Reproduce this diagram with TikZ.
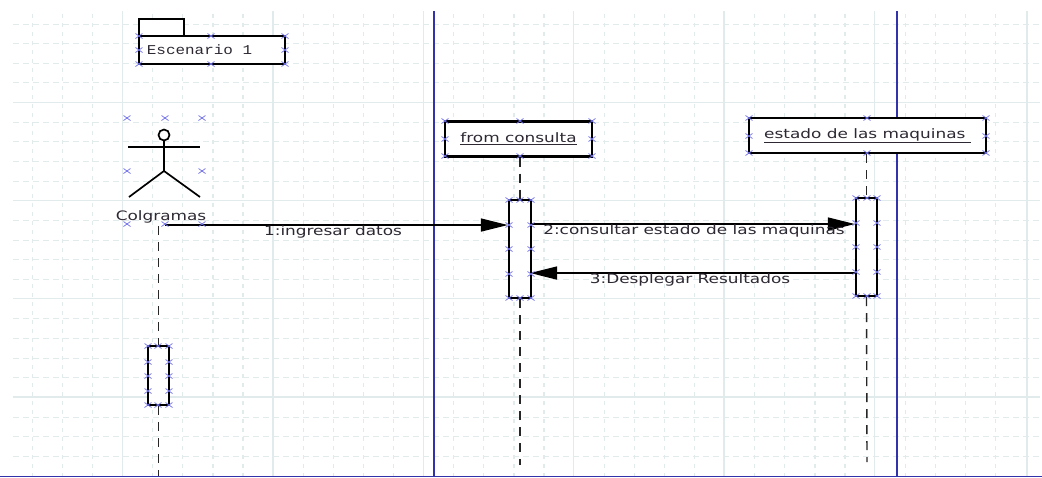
\documentclass[tikz,border=0pt]{standalone}
\usepackage{fontspec}
\setmainfont{DejaVu Sans}
\newfontfamily\widef[FakeStretch=1.3]{DejaVu Sans}
\newfontfamily\monof[FakeStretch=1.18]{Liberation Mono}
\usetikzlibrary{arrows.meta}
\definecolor{gridc}{RGB}{226,235,235}
\definecolor{bluec}{RGB}{50,50,170}
\definecolor{handc}{RGB}{110,110,235}
\definecolor{txtc}{RGB}{45,40,50}
\newcommand{\handles}[1]{\foreach \hx/\hy in {#1}{%
  \draw[handc,line width=.7pt] (\hx-3.5,\hy-2.5) -- (\hx+3.5,\hy+2.5) (\hx-3.5,\hy+2.5) -- (\hx+3.5,\hy-2.5);}}
\tikzset{
  gridsolid/.style={gridc,line width=1.2pt},
  griddashv/.style={gridc,line width=1.2pt,dash pattern=on 4pt off 5pt},
  griddashh/.style={gridc,line width=1pt,dash pattern=on 6pt off 4pt},
  frameline/.style={bluec,line width=1.3pt},
  objbox/.style={draw=black,line width=2.3pt,fill=white,inner sep=0pt,text=txtc},
  actbox/.style={draw=black,line width=2.3pt,fill=white,inner sep=0pt},
  lifeline/.style={black!85,line width=1.4pt,dash pattern=on 9pt off 7pt},
  msg/.style={black,line width=1.6pt,-{Triangle[length=27pt,width=13pt]}},
  msglabel/.style={text=txtc,font=\widef\fontsize{13}{15}\selectfont,inner sep=0pt},
  actorline/.style={black,line width=1.7pt}
}
\begin{document}
\begin{tikzpicture}[x=1pt,y=-1pt]
\useasboundingbox (0,0) rectangle (1042,477);
\fill[white] (0,0) rectangle (1042,477);
% grid
\foreach \gx in {32.2,62.3,92.5,152.7,182.8,212.9,243,303.2,333.3,363.4,393.5,453.7,483.8,513.9,544,604.2,634.3,664.4,694.5,754.7,784.8,814.9,845,905.2,935.3,965.4,995.5}
  \draw[griddashv] (\gx,14) -- (\gx,476);
\foreach \gy in {24,43.5,63,82.5,122,141.5,161,181,220,240,259.5,279,318.5,338,358,377.5,417,436.5,456}
  \draw[griddashh] (13,\gy) -- (1040,\gy);
\foreach \gx in {122.7,273,423.5,573.8,724,874.5,1027}
  \draw[gridsolid] (\gx,11) -- (\gx,476);
\foreach \gy in {102.5,200.5,298.5,397}
  \draw[gridsolid] (13,\gy) -- (1040,\gy);
% frame lines
\coordinate (fa) at (434,11); \coordinate (fb) at (434,476);
\coordinate (fc) at (897,11); \coordinate (fd) at (897,476);
\coordinate (fe) at (0,476.5); \coordinate (ff) at (1042,476.5);
\draw[frameline] (fa) -- (fb);
\draw[frameline] (fc) -- (fd);
\draw[frameline] (fe) -- (ff);
% package
\draw[black,line width=2.3pt,fill=white] (139,36) -- (139,19) -- (184,19) -- (184,36);
\node[objbox,minimum width=146.5pt,minimum height=28pt] (pkg) at (212,50) {};
\node[inner sep=0pt,text=txtc,font=\monof\fontsize{13.5}{15}\selectfont] (pkgtext) at (199.5,50) {Escenario 1};
% objects
\node[objbox,minimum width=147pt,minimum height=35pt,font=\widef\fontsize{13}{15}\selectfont] (obj1) at (518.5,139) {\underline{from consulta}};
\node[objbox,minimum width=237pt,minimum height=35pt,font=\widef\fontsize{13}{15}\selectfont] (obj2) at (867.5,135.5) {\underline{estado de las maquinas\ }};
% actor
\coordinate (hip) at (164,171);
\coordinate (armL) at (128,147);
\coordinate (armR) at (200,147);
\coordinate (legL) at (129,197);
\coordinate (legR) at (200,197);
\node[draw=black,line width=1.7pt,circle,minimum size=11pt,inner sep=0pt] (head) at (164,135) {};
\draw[actorline] (head) -- (hip);
\draw[actorline] (armL) -- (armR);
\draw[actorline] (legL) -- (hip) -- (legR);
\node[msglabel] (actorlabel) at (161,217) {Colgramas};
% activations
\node[actbox,minimum width=22pt,minimum height=98pt] (act1) at (520,249) {};
\node[actbox,minimum width=21pt,minimum height=98pt] (act2) at (866.5,247) {};
\node[actbox,minimum width=21pt,minimum height=59pt] (act0) at (158.5,375.5) {};
% lifelines
\coordinate (l0top) at (158.5,226); \coordinate (l0bot) at (158.5,476);
\coordinate (l1end) at (520,465);
\coordinate (l2end) at (867,462);
\draw[lifeline] (l0top) -- (act0.north);
\draw[lifeline] (act0.south) -- (l0bot);
\draw[lifeline] (obj1.south -| act1.north) -- (act1.north);
\draw[lifeline] (act1.south) -- (l1end);
\draw[lifeline] (obj2.south -| act2.north) -- (act2.north);
\draw[lifeline] (act2.south) -- (l2end);
% messages
\coordinate (m1s) at (165,225);
\draw[msg] (m1s) -- (act1.west |- m1s);
\coordinate (m2s) at (531,224);
\draw[msg] (m2s) -- (act2.west |- m2s);
\coordinate (m3s) at (856,273);
\draw[msg,shorten >=-2pt] (m3s) -- (act1.east |- m3s);
\node[msglabel] (lab1) at (333,231.5) {1:ingresar datos};
\node[msglabel] (lab2) at (694,230.5) {2:consultar estado de las maquinas};
\node[msglabel] (lab3) at (690,279.5) {3:Desplegar Resultados};
% handles
\handles{139/36,211/36,285/36,139/50,285/50,139/64,211/64,285/64}
\handles{127/118,165/118,202/118,127/171,202/171,127/224,165/224,202/224}
\handles{445/121,520/121,592/121,445/139,592/139,445/156,520/156,592/156}
\handles{749/118,867/118,986/118,749/136,986/136,749/153,867/153,986/153}
\handles{509/200,520/200,531/200,509/225,531/225,509/249,531/249,509/274,531/274,509/298,520/298,531/298}
\handles{856/198,867/198,877/198,856/223,877/223,856/247,877/247,856/272,877/272,856/296,867/296,877/296}
\handles{148/346,158/346,169/346,148/362,169/362,148/376,169/376,148/391,169/391,148/405,158/405,169/405}
\end{tikzpicture}
\end{document}
